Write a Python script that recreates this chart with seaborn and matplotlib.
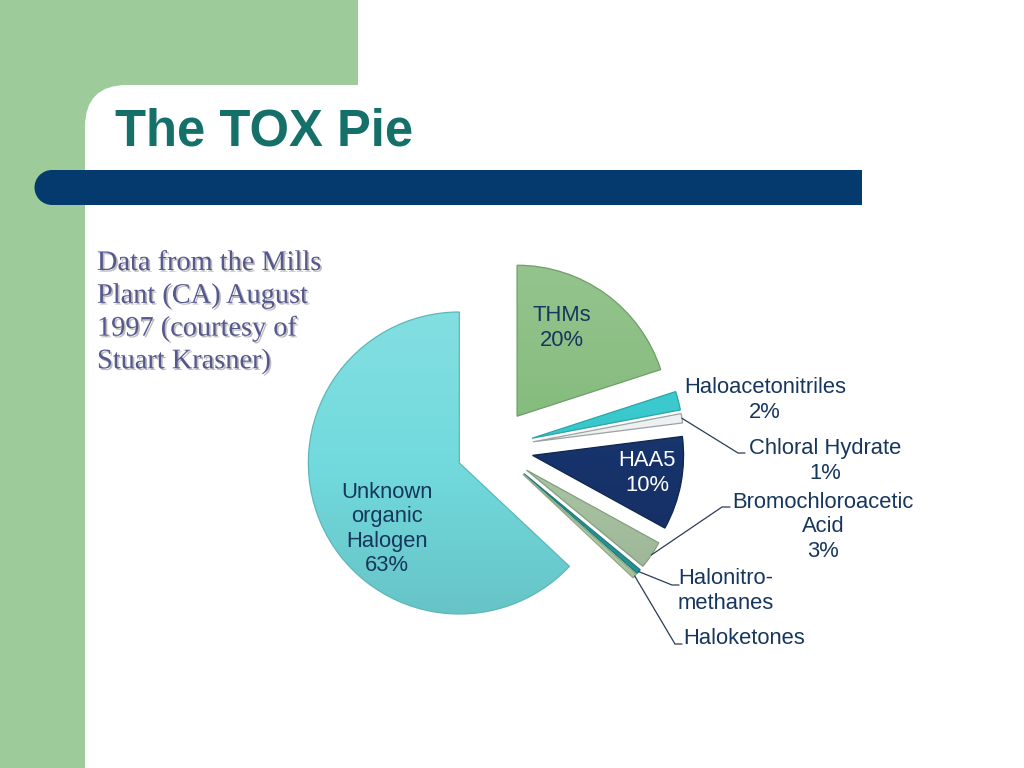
"""The TOX Pie: share of total organic halogen by DBP class (Mills Plant, Aug 1997)."""

import matplotlib

matplotlib.use("Agg")
import matplotlib.pyplot as plt
import numpy as np
import seaborn as sns
from matplotlib import colors as mcolors
from matplotlib import patches, patheffects


CATEGORIES = [
    "THMs",
    "Haloacetonitriles",
    "Chloral Hydrate",
    "HAA5",
    "Bromochloroacetic Acid",
    "Halonitromethanes",
    "Haloketones",
    "Unknown organic Halogen",
]
SHARES = [20, 2, 1, 10, 3, 0.5, 0.5, 63]
LABELS = [
    "THMs\n20%",
    "Haloacetonitriles\n2%",
    "Chloral Hydrate\n1%",
    "HAA5\n10%",
    "Bromochloroacetic\nAcid\n3%",
    "Halonitro-\nmethanes",
    "Haloketones",
    "Unknown\norganic\nHalogen\n63%",
]
SLICE_COLORS = ["#86bc7e", "#36c8cc", "#eef1f1", "#17336b", "#a9c4a3", "#2a9a9a", "#b7d0aa", "#72dadd"]
EDGE_COLORS = ["#6e9e68", "#2aa5a8", "#9aa3a3", "#0e2550", "#849f80", "#1f7a7a", "#8ea884", "#5db7b9"]

TITLE = "The TOX Pie"
NOTE = "Data from the Mills\nPlant (CA) August\n1997 (courtesy of\nStuart Krasner)"

GREEN = "#9dcb99"
NAVY = "#043a6e"
TEXT_NAVY = "#17365d"

# pie placement in pixels (figure is 1024 x 768)
PIE_CX, PIE_CY, PIE_R = 494, 448, 151
PIE_BOX = 500

# label placement: (x px, y px, ha, color); leader elbow and stub end in px
LABEL_POS = {
    0: (562, 328, "center", TEXT_NAVY),
    1: (765, 400, "center", TEXT_NAVY),
    2: (825, 461, "center", TEXT_NAVY),
    3: (647, 473, "center", "white"),
    4: (823, 527, "center", TEXT_NAVY),
    5: (678, 591, "left", TEXT_NAVY),
    6: (683, 638, "left", TEXT_NAVY),
    7: (387, 529, "center", TEXT_NAVY),
}
LEADERS = {
    2: ((738, 453), (745, 453)),
    4: ((722, 507), (730, 507)),
    5: ((672, 585), (679, 585)),
    6: ((675, 644), (682, 644)),
}


def to_data(px, py):
    return (px - PIE_CX) / PIE_R, (PIE_CY - py) / PIE_R


def shade(color, amount):
    # amount > 0 mixes with white, < 0 with black
    rgb = np.array(mcolors.to_rgb(color))
    target = np.ones(3) if amount > 0 else np.zeros(3)
    return tuple(rgb + (target - rgb) * abs(amount))


sns.set_style("white")
plt.rcParams["font.family"] = ["Liberation Sans", "DejaVu Sans"]

fig = plt.figure(figsize=(10.24, 7.68), dpi=100)
fig.patch.set_facecolor(GREEN)

# slide background
bg = fig.add_axes([0, 0, 1, 1])
bg.set_xlim(0, 1024)
bg.set_ylim(768, 0)
bg.axis("off")
bg.add_patch(patches.Rectangle((358, -5), 700, 100, facecolor="white", edgecolor="none"))
bg.add_patch(patches.FancyBboxPatch((85, 85), 1000, 760, boxstyle="round,pad=0,rounding_size=42",
                                    facecolor="white", edgecolor="none"))
bg.add_patch(patches.Rectangle((51, 170), 811, 35, facecolor=NAVY, edgecolor="none"))
bg.add_patch(patches.Circle((52, 187.5), 17.5, facecolor=NAVY, edgecolor="none"))

bg.text(115, 146, TITLE, fontsize=36.5, fontweight="bold", color="#15706a", va="baseline", ha="left")
note = bg.text(97, 251, NOTE, fontsize=20.4, color="#55588f", va="top", ha="left",
               family=["Liberation Serif", "DejaVu Serif"], linespacing=1.4)
note.set_path_effects([patheffects.withSimplePatchShadow(offset=(1.2, -1.2), shadow_rgbFace="#a0a0a0", alpha=0.7)])

# pie
half = PIE_BOX / 2
ax = fig.add_axes([(PIE_CX - half) / 1024, (768 - PIE_CY - half) / 768, PIE_BOX / 1024, PIE_BOX / 768])
explode = [0.26] * (len(SHARES) - 1) + [0.25]
wedges, _ = ax.pie(SHARES, explode=explode, colors=SLICE_COLORS, startangle=90, counterclock=False,
                   radius=1, wedgeprops=dict(linewidth=0.9))

# soft vertical gradient inside every slice
ramp = np.linspace(0, 1, 256).reshape(-1, 1)
for wedge, base, edge in zip(wedges, SLICE_COLORS, EDGE_COLORS):
    cmap = sns.blend_palette([shade(base, 0.12), base, shade(base, -0.1)], as_cmap=True)
    cx, cy = wedge.center
    r = wedge.r
    im = ax.imshow(ramp, cmap=cmap, extent=[cx - r, cx + r, cy - r, cy + r], origin="upper",
                   aspect="auto", zorder=1, interpolation="bilinear")
    im.set_clip_path(wedge)
    wedge.set_facecolor("none")
    wedge.set_edgecolor(edge)
    wedge.set_zorder(2)

lim = PIE_BOX / (2 * PIE_R)
ax.set_xlim(-lim, lim)
ax.set_ylim(-lim, lim)
ax.set_aspect("equal")
ax.axis("off")

for i, label in enumerate(LABELS):
    px, py, ha, color = LABEL_POS[i]
    x, y = to_data(px, py)
    ax.text(x, y, label, fontsize=15.8, color=color, ha=ha, va="center", linespacing=1.2, zorder=3)

for i, (elbow, stub) in LEADERS.items():
    w = wedges[i]
    mid = np.deg2rad((w.theta1 + w.theta2) / 2)
    tip = (w.center[0] + w.r * np.cos(mid), w.center[1] + w.r * np.sin(mid))
    ex, ey = to_data(*elbow)
    sx, sy = to_data(*stub)
    ax.plot([tip[0], ex, sx], [tip[1], ey, sy], color="#2a3c58", linewidth=0.9, clip_on=False, zorder=3)

fig.savefig("out.png", dpi=100)
